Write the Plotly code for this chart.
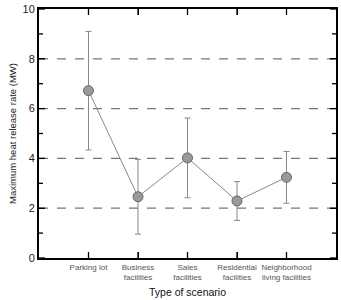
import plotly.graph_objects as go

categories = ["Parking lot", "Business<br>facilities", "Sales<br>facilities",
              "Residential<br>facilities", "Neighborhood<br>living facilities"]
values = [6.72, 2.46, 4.02, 2.29, 3.24]
errors = [2.38, 1.50, 1.60, 0.78, 1.04]
y_ticks = [0, 2, 4, 6, 8, 10]
y_minor = [1, 3, 5, 7, 9]
grid_levels = [2, 4, 6, 8]
x_range = [-1, 5]
y_range = [0, 10]

xpos = list(range(len(categories)))

fig = go.Figure()
for g in grid_levels:
    fig.add_hline(y=g, line=dict(color="#777777", width=1.2, dash="dash"), layer="below")

tick_line = dict(color="black", width=1.3)
for xv in xpos:
    fig.add_shape(type="line", xref="x", yref="paper", ysizemode="pixel", yanchor=0,
                  x0=xv, x1=xv, y0=0, y1=6, line=tick_line)
    fig.add_shape(type="line", xref="x", yref="paper", ysizemode="pixel", yanchor=1,
                  x0=xv, x1=xv, y0=0, y1=-6, line=tick_line)
for yv, ln in [(v, 6) for v in y_ticks] + [(v, 4) for v in y_minor]:
    fig.add_shape(type="line", yref="y", xref="paper", xsizemode="pixel", xanchor=0,
                  y0=yv, y1=yv, x0=0, x1=ln, line=tick_line)
    fig.add_shape(type="line", yref="y", xref="paper", xsizemode="pixel", xanchor=1,
                  y0=yv, y1=yv, x0=0, x1=-ln, line=tick_line)

fig.add_trace(go.Scatter(
    x=xpos, y=values, mode="lines+markers",
    line=dict(color="#888888", width=1),
    marker=dict(size=10, color="#999999", line=dict(color="#666666", width=1)),
    error_y=dict(type="data", array=errors, visible=True, color="#888888",
                 thickness=1, width=3),
    showlegend=False,
))

fig.update_layout(
    width=341, height=300,
    margin=dict(l=39, r=3, t=7, b=38),
    plot_bgcolor="white", paper_bgcolor="white",
    font=dict(family="Liberation Sans, Arial, sans-serif", color="#222222"),
    xaxis=dict(
        range=x_range, tickmode="array", tickvals=xpos, ticktext=categories,
        tickangle=0, ticks="inside", ticklen=6, tickcolor="black",
        showline=True, linecolor="black", linewidth=2, mirror="allticks",
        showgrid=False, zeroline=False,
        tickfont=dict(size=8, color="#555555"),
        title=dict(text="Type of scenario", font=dict(size=10.5, color="#111111"), standoff=8),
    ),
    yaxis=dict(
        range=y_range, tickmode="array", tickvals=y_ticks,
        ticks="inside", ticklen=6, tickcolor="black",
        showline=True, linecolor="black", linewidth=2, mirror="allticks",
        showgrid=False, zeroline=False,
        tickfont=dict(size=11, color="#222222"),
        title=dict(text="Maximum heat release rate (MW)", font=dict(size=9.5, color="#222222"), standoff=4),
    ),
)

fig.write_html("out.html")
